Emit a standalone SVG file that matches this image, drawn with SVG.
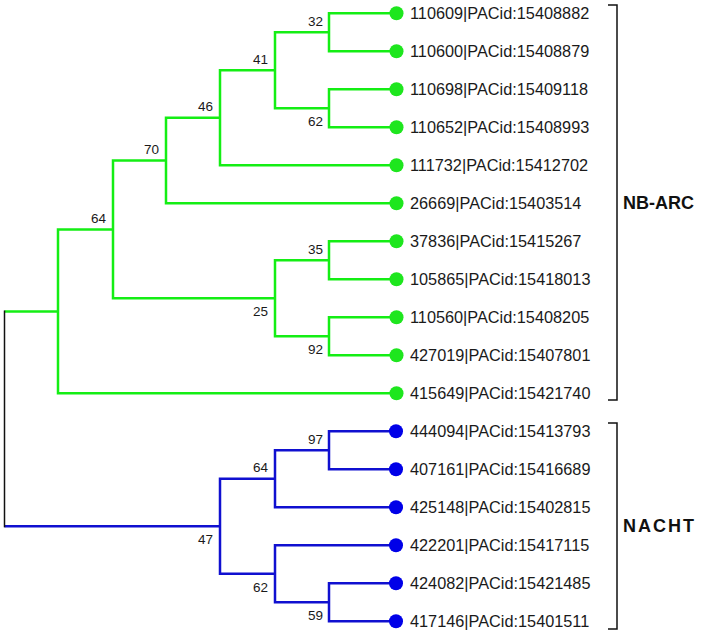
<svg xmlns="http://www.w3.org/2000/svg" width="706" height="634" viewBox="0 0 706 634">
<style>
.g{fill:none;stroke:#14ee14;stroke-width:2.5}
.b{fill:none;stroke:#1010d0;stroke-width:2.5}
.k{fill:none;stroke:#111;stroke-width:1.5}
.dg{fill:#1ee61e}
.db{fill:#0000e8}
.lf{font-family:"Liberation Sans",Arial,sans-serif;font-size:16.3px;fill:#1a1a1a}
.bs{font-family:"Liberation Sans",Arial,sans-serif;font-size:13.5px;fill:#1a1a1a;text-anchor:end}
.cl{font-family:"Liberation Sans",Arial,sans-serif;font-size:18px;font-weight:bold;fill:#111}
</style>
<rect width="706" height="634" fill="#fff"/>
<g id="connectors">
<path class="g" d="M392,13.3 H329 V51.3 H392"/>
<path class="g" d="M392,89.3 H329 V127.3 H392"/>
<path class="g" d="M329,32.3 H275 V108.3 H329"/>
<path class="g" d="M275,70.3 H220 V165.3 H392"/>
<path class="g" d="M220,117.8 H166 V203.3 H392"/>
<path class="g" d="M392,241.3 H329 V279.3 H392"/>
<path class="g" d="M392,317.3 H329 V355.3 H392"/>
<path class="g" d="M329,260.3 H275 V336.3 H329"/>
<path class="g" d="M166,160.6 H113 V298.3 H275"/>
<path class="g" d="M113,229.4 H58 V393.3 H392"/>
<path class="g" d="M4.5,311.4 H58"/>
<path class="b" d="M392,431.3 H329 V469.3 H392"/>
<path class="b" d="M329,450.3 H275 V507.3 H392"/>
<path class="b" d="M392,583.3 H329 V621.3 H392"/>
<path class="b" d="M392,545.3 H275 V602.3 H329"/>
<path class="b" d="M275,478.8 H220 V573.8 H275"/>
<path class="b" d="M4.5,526.3 H220"/>
<path class="k" d="M4.5,310.5 V527.3"/>
</g>
<g id="support-values">
<text class="bs" x="323" y="25.8">32</text>
<text class="bs" x="323" y="126.3">62</text>
<text class="bs" x="268" y="63.8">41</text>
<text class="bs" x="213" y="111.3">46</text>
<text class="bs" x="159" y="154">70</text>
<text class="bs" x="106" y="222.9">64</text>
<text class="bs" x="323" y="253.8">35</text>
<text class="bs" x="268" y="316.3">25</text>
<text class="bs" x="323" y="354.3">92</text>
<text class="bs" x="323" y="443.8">97</text>
<text class="bs" x="268" y="472.3">64</text>
<text class="bs" x="323" y="620.3">59</text>
<text class="bs" x="268" y="591.8">62</text>
<text class="bs" x="213" y="544.3">47</text>
</g>
<g id="leaf1"><circle class="dg" cx="396.5" cy="13.3" r="7"/><text class="lf" x="410" y="19.3">110609|PACid:15408882</text></g>
<g id="leaf2"><circle class="dg" cx="396.5" cy="51.3" r="7"/><text class="lf" x="410" y="57.3">110600|PACid:15408879</text></g>
<g id="leaf3"><circle class="dg" cx="396.5" cy="89.3" r="7"/><text class="lf" x="410" y="95.3">110698|PACid:15409118</text></g>
<g id="leaf4"><circle class="dg" cx="396.5" cy="127.3" r="7"/><text class="lf" x="410" y="133.3">110652|PACid:15408993</text></g>
<g id="leaf5"><circle class="dg" cx="396.5" cy="165.3" r="7"/><text class="lf" x="410" y="171.3">111732|PACid:15412702</text></g>
<g id="leaf6"><circle class="dg" cx="396.5" cy="203.3" r="7"/><text class="lf" x="410" y="209.3">26669|PACid:15403514</text></g>
<g id="leaf7"><circle class="dg" cx="396.5" cy="241.3" r="7"/><text class="lf" x="410" y="247.3">37836|PACid:15415267</text></g>
<g id="leaf8"><circle class="dg" cx="396.5" cy="279.3" r="7"/><text class="lf" x="410" y="285.3">105865|PACid:15418013</text></g>
<g id="leaf9"><circle class="dg" cx="396.5" cy="317.3" r="7"/><text class="lf" x="410" y="323.3">110560|PACid:15408205</text></g>
<g id="leaf10"><circle class="dg" cx="396.5" cy="355.3" r="7"/><text class="lf" x="410" y="361.3">427019|PACid:15407801</text></g>
<g id="leaf11"><circle class="dg" cx="396.5" cy="393.3" r="7"/><text class="lf" x="410" y="399.3">415649|PACid:15421740</text></g>
<g id="leaf12"><circle class="db" cx="396" cy="431.3" r="7"/><text class="lf" x="410" y="437.3">444094|PACid:15413793</text></g>
<g id="leaf13"><circle class="db" cx="396" cy="469.3" r="7"/><text class="lf" x="410" y="475.3">407161|PACid:15416689</text></g>
<g id="leaf14"><circle class="db" cx="396" cy="507.3" r="7"/><text class="lf" x="410" y="513.3">425148|PACid:15402815</text></g>
<g id="leaf15"><circle class="db" cx="396" cy="545.3" r="7"/><text class="lf" x="410" y="551.3">422201|PACid:15417115</text></g>
<g id="leaf16"><circle class="db" cx="396" cy="583.3" r="7"/><text class="lf" x="410" y="589.3">424082|PACid:15421485</text></g>
<g id="leaf17"><circle class="db" cx="396" cy="621.3" r="7"/><text class="lf" x="410" y="627.3">417146|PACid:15401511</text></g>
<g id="clade-nbarc"><path class="k" d="M608,5 H617 V400 H608"/><text class="cl" x="623" y="209">NB-ARC</text></g>
<g id="clade-nacht"><path class="k" d="M608,423 H617 V629 H608"/><text class="cl" x="623" y="532" textLength="71" lengthAdjust="spacing">NACHT</text></g>
</svg>
